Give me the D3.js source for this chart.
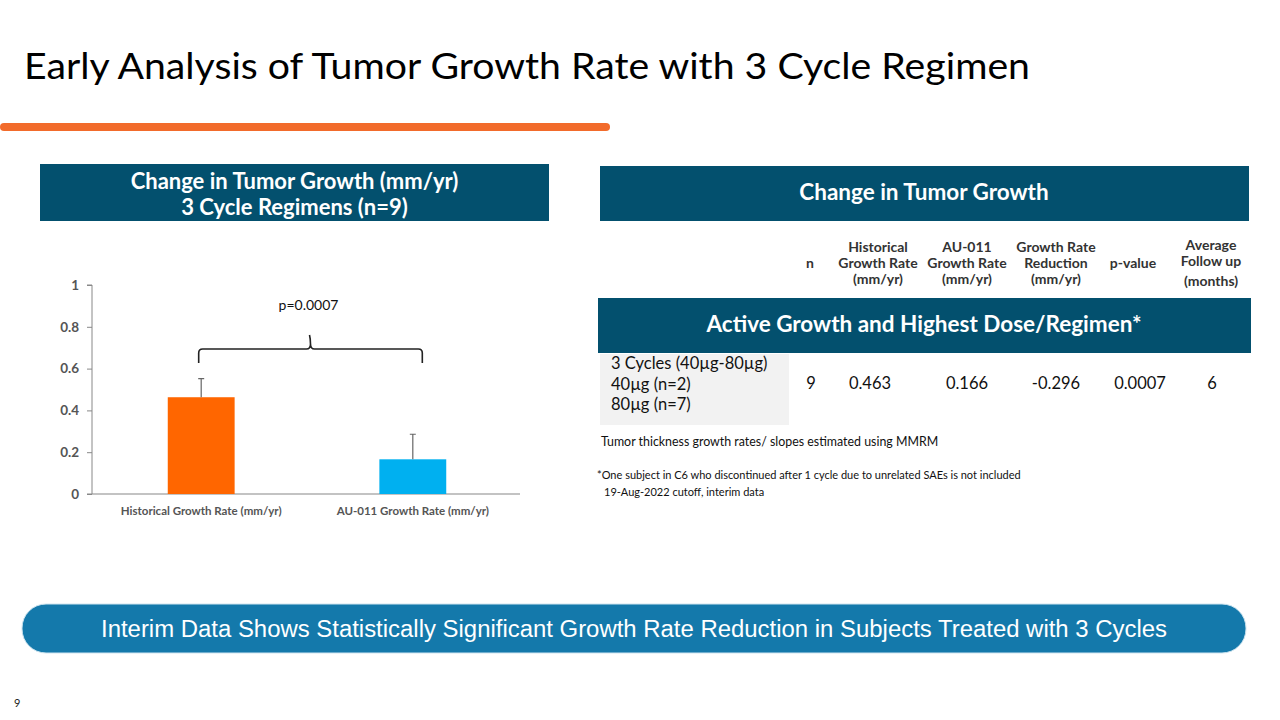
<!DOCTYPE html>
<html><head><meta charset="utf-8">
<script src="https://cdn.jsdelivr.net/npm/d3@7"></script>
<style>body{margin:0;background:#fff}svg{display:block}</style>
</head><body>
<script>
// ---- data ----
const categories = ["Historical Growth Rate (mm/yr)", "AU-011 Growth Rate (mm/yr)"];
const values = [0.463, 0.166];
const errors = [0.089, 0.120];
const barColors = ["#ff6600", "#00b0f0"];
const yTicks = [0, 0.2, 0.4, 0.6, 0.8, 1];
const pLabel = "p=0.0007";

const tableHeaders = [["n"], ["Historical", "Growth Rate", "(mm/yr)"], ["AU-011", "Growth Rate", "(mm/yr)"], ["Growth Rate", "Reduction", "(mm/yr)"], ["p-value"], ["Average", "Follow up", "(months)"]];
const rowLabel = ["3 Cycles (40µg-80µg)", "40µg (n=2)", "80µg (n=7)"];
const rowValues = ["9", "0.463", "0.166", "-0.296", "0.0007", "6"];
const colCenters = [811, 870, 967, 1056, 1140, 1212];
const headerCenters = [810, 878, 967, 1056, 1133, 1211];

const W = 1280, H = 720;
const font = "Lato, 'Open Sans', sans-serif";
const teal = "#03506e";
const svg = d3.select("body").append("svg").attr("width", W).attr("height", H).style("font-family", font);

// Title
svg.append("text").attr("x", 24).attr("y", 79).attr("font-size", 37).attr("fill", "#000")
  .attr("textLength", 1006).attr("lengthAdjust", "spacingAndGlyphs")
  .text("Early Analysis of Tumor Growth Rate with 3 Cycle Regimen");
svg.append("line").attr("x1", 4).attr("x2", 606).attr("y1", 127).attr("y2", 127)
  .attr("stroke", "#f26b2b").attr("stroke-width", 8).attr("stroke-linecap", "round");

// Left header
svg.append("rect").attr("x", 40).attr("y", 164).attr("width", 509).attr("height", 57).attr("fill", teal);
svg.append("text").attr("x", 294.5).attr("y", 189).attr("text-anchor", "middle").attr("fill", "#fff")
  .attr("font-size", 22).attr("font-weight", "bold").text("Change in Tumor Growth (mm/yr)");
svg.append("text").attr("x", 294.5).attr("y", 215).attr("text-anchor", "middle").attr("fill", "#fff")
  .attr("font-size", 22).attr("font-weight", "bold").text("3 Cycle Regimens (n=9)");

// Chart
const x = d3.scaleBand().domain(categories).range([92, 522]).paddingInner(0.684).paddingOuter(0.358);
const y = d3.scaleLinear().domain([0, 1]).range([494, 285]);
const g = svg.append("g");
const yAxis = g.append("g").attr("transform", "translate(92,0)")
  .call(d3.axisLeft(y).tickValues(yTicks).tickFormat(d => d === 0 ? "0" : d === 1 ? "1" : d3.format(".1f")(d)).tickSize(5).tickPadding(8));
yAxis.select(".domain").attr("stroke", "#888").attr("d", `M-5,${y(1)}H0V${y(0)}H-5`);
yAxis.selectAll(".tick line").attr("stroke", "#888");
yAxis.selectAll("text").attr("font-size", 13.5).attr("fill", "#555").attr("font-family", font).attr("font-weight", "bold");
g.append("line").attr("x1", 92).attr("x2", 520).attr("y1", y(0)).attr("y2", y(0)).attr("stroke", "#888").attr("stroke-width", 1.2);

g.selectAll(".bar").data(values).join("rect")
  .attr("x", (d, i) => x(categories[i])).attr("width", x.bandwidth())
  .attr("y", d => y(d)).attr("height", d => y(0) - y(d)).attr("fill", (d, i) => barColors[i]);
g.selectAll(".err").data(values).join("path")
  .attr("d", (d, i) => { const cx = x(categories[i]) + x.bandwidth() / 2; const t = y(d + errors[i]); return `M${cx},${y(d)}V${t}M${cx-3},${t}H${cx+3}`; })
  .attr("stroke", "#666").attr("stroke-width", 1.2).attr("fill", "none");
g.selectAll(".cat").data(categories).join("text")
  .attr("x", d => x(d) + x.bandwidth() / 2).attr("y", 515).attr("text-anchor", "middle")
  .attr("font-size", 11.5).attr("font-weight", "bold").attr("fill", "#555").text(d => d);

// bracket
const bx1 = x(categories[0]) + x.bandwidth() / 2 - 2.5, bx2 = x(categories[1]) + x.bandwidth() / 2 + 9.5;
const bm = (bx1 + bx2) / 2, by = 349;
g.append("path").attr("fill", "none").attr("stroke", "#222").attr("stroke-width", 1.6)
  .attr("d", `M${bx1},363 V${by+4} Q${bx1},${by} ${bx1+4},${by} H${bm-4} Q${bm},${by} ${bm},${by-5} Q${bm},${by-10} ${bm-1},${by-14} M${bm},${by-5} Q${bm},${by} ${bm+4},${by} H${bx2-4} Q${bx2},${by} ${bx2},${by+4} V363`);
g.append("text").attr("x", bm - 2).attr("y", 310).attr("text-anchor", "middle").attr("font-size", 14).attr("fill", "#111").text(pLabel);

// Right header
svg.append("rect").attr("x", 600).attr("y", 166).attr("width", 649).attr("height", 55).attr("fill", teal);
svg.append("text").attr("x", 924).attr("y", 200).attr("text-anchor", "middle").attr("fill", "#fff")
  .attr("font-size", 22.5).attr("font-weight", "bold").text("Change in Tumor Growth");

// column headers
tableHeaders.forEach((lines, i) => {
  const n = lines.length;
  lines.forEach((l, j) => {
    let yy = n === 1 ? 268 : 252 + j * 16;
    if (i === 5) yy = 250 + j * 16 + (j === 2 ? 4 : 0);
    svg.append("text").attr("x", headerCenters[i]).attr("y", yy).attr("text-anchor", "middle")
      .attr("font-size", 14).attr("font-weight", "bold").attr("fill", "#333").text(l);
  });
});

svg.append("rect").attr("x", 598).attr("y", 298).attr("width", 653).attr("height", 55).attr("fill", teal);
svg.append("text").attr("x", 924).attr("y", 332).attr("text-anchor", "middle").attr("fill", "#fff")
  .attr("font-size", 22.5).attr("font-weight", "bold").text("Active Growth and Highest Dose/Regimen*");

svg.append("rect").attr("x", 600).attr("y", 354).attr("width", 189).attr("height", 71).attr("fill", "#f2f2f2");
rowLabel.forEach((l, j) => svg.append("text").attr("x", 611).attr("y", 369 + j * 20.5).attr("font-size", 16.5).attr("fill", "#111").text(l));
rowValues.forEach((v, i) => svg.append("text").attr("x", colCenters[i]).attr("y", 389).attr("text-anchor", "middle").attr("font-size", 16.5).attr("fill", "#111").text(v));

svg.append("text").attr("x", 601).attr("y", 446).attr("font-size", 12.4).attr("fill", "#111").text("Tumor thickness growth rates/ slopes estimated using MMRM");
svg.append("text").attr("x", 597).attr("y", 479).attr("font-size", 11).attr("fill", "#111").text("*One subject in C6 who discontinued after 1 cycle due to unrelated SAEs is not included");
svg.append("text").attr("x", 604).attr("y", 496).attr("font-size", 11).attr("fill", "#111").text("19-Aug-2022 cutoff, interim data");

// Bottom pill
svg.append("rect").attr("x", 22).attr("y", 604).attr("width", 1224).attr("height", 49).attr("rx", 24).attr("fill", "#1479ab").attr("stroke", "#cfe5f0").attr("stroke-width", 1);
svg.append("text").attr("x", 634).attr("y", 637).attr("text-anchor", "middle").attr("fill", "#fff")
  .attr("font-family", "'Liberation Sans Narrow', 'Liberation Sans', Arial, sans-serif").attr("font-size", 23)
  .attr("textLength", 1066).attr("lengthAdjust", "spacingAndGlyphs")
  .text("Interim Data Shows Statistically Significant Growth Rate Reduction in Subjects Treated with 3 Cycles");

svg.append("text").attr("x", 14).attr("y", 707).attr("font-size", 11).attr("fill", "#222").text("9");
</script>
</body></html>
